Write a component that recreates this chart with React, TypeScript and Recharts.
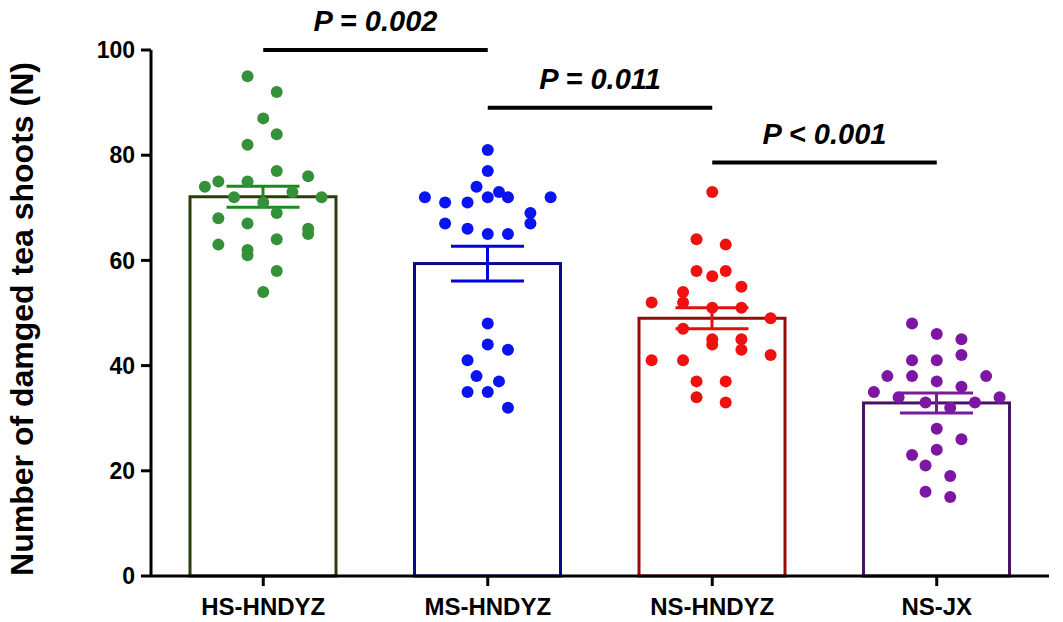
import React from "react";
import {
  Bar,
  ComposedChart,
  ReferenceLine,
  Scatter,
  XAxis,
  YAxis,
} from "recharts";

const groups = ["HS-HNDYZ", "MS-HNDYZ", "NS-HNDYZ", "NS-JX"];
const means = [72.1, 59.4, 49.0, 32.9];
const sems = [2.0, 3.3, 2.0, 1.9];

// individual counts per site, with the horizontal jitter (in category widths) seen in the figure
const hsValues = [95, 92, 87, 84, 82, 77, 76, 75, 75, 74, 73, 72, 72, 71, 69, 68, 67, 66, 65, 64, 63, 62, 61, 58, 54];
const hsJitter = [-0.07, 0.06, 0, 0.06, -0.07, 0.06, 0.2, -0.2, -0.07, -0.26, 0.13, -0.13, 0.26, 0, 0.06, -0.2, -0.07, 0.2, 0.2, 0.06, -0.2, -0.07, -0.07, 0.06, 0];
const msValues = [81, 77, 74, 73, 72, 72, 72, 72, 71, 71, 69, 67, 67, 66, 65, 65, 48, 44, 43, 41, 38, 37, 35, 35, 32];
const msJitter = [0, 0, -0.05, 0.05, -0.28, 0, 0.09, 0.28, -0.19, -0.09, 0.19, 0.19, -0.19, -0.09, 0, 0.09, 0, 0, 0.09, -0.09, -0.05, 0.05, -0.09, 0, 0.09];
const nsValues = [73, 64, 63, 58, 58, 57, 55, 54, 52, 52, 51, 51, 49, 47, 45, 44, 45, 43, 41, 41, 42, 37, 37, 34, 33];
const nsJitter = [0, -0.07, 0.06, -0.07, 0.06, 0, 0.13, -0.13, -0.13, -0.27, 0, 0.13, 0.26, -0.13, 0, 0, 0.13, 0.13, -0.27, -0.13, 0.26, -0.07, 0.06, -0.07, 0.06];
const jxValues = [48, 46, 45, 42, 41, 41, 38, 38, 38, 37, 36, 35, 34, 34, 33, 33, 32, 28, 26, 24, 23, 21, 19, 16, 15];
const jxJitter = [-0.11, 0, 0.11, 0.11, -0.11, 0, -0.22, -0.11, 0.22, 0, 0.11, -0.28, -0.17, 0.28, -0.05, 0.17, 0.06, 0, 0.11, 0, -0.11, -0.05, 0.06, -0.05, 0.06];

const comparisons = [
  { from: 0, to: 1, y: 100, text: "P = 0.002" },
  { from: 1, to: 2, y: 89, text: "P = 0.011" },
  { from: 2, to: 3, y: 78.6, text: "P < 0.001" },
];

const barColors = ["#2b3d0d", "#0b0b8a", "#9a0a0a", "#4b1263"];
const errColors = ["#1a8a1a", "#0000e0", "#e01010", "#7a1a9c"];
const dotColors = ["#34913a", "#0a14f0", "#f01010", "#7e16a4"];

const barData = groups.map((name, i) => ({ name, mean: means[i], sem: sems[i] }));

const dotSets = [
  [hsValues, hsJitter],
  [msValues, msJitter],
  [nsValues, nsJitter],
  [jxValues, jxJitter],
].map(([vals, jit], g) => vals.map((v, k) => ({ x: g + jit[k], y: v })));

const FONT = "'Liberation Sans', Arial, sans-serif";

function OutlinedBar(props: any) {
  const { x, y, width, height, payload, index } = props;
  const perUnit = height / payload.mean;
  const err = payload.sem * perUnit;
  const cx = x + width / 2;
  const cap = width / 4;
  return (
    <g>
      <rect x={x} y={y} width={width} height={height} fill="#fff" stroke={barColors[index]} strokeWidth={3} />
      <g stroke={errColors[index]} strokeWidth={3}>
        <line x1={cx} x2={cx} y1={y - err} y2={y + err} />
        <line x1={cx - cap} x2={cx + cap} y1={y - err} y2={y - err} />
        <line x1={cx - cap} x2={cx + cap} y1={y + err} y2={y + err} />
      </g>
    </g>
  );
}

function YTitle(props: any) {
  const { viewBox } = props;
  const x = viewBox.x + 22;
  const y = viewBox.y + viewBox.height / 2 + 6;
  return (
    <text
      x={x}
      y={y}
      transform={`rotate(-90, ${x}, ${y})`}
      textAnchor="middle"
      dominantBaseline="central"
      fill="#000"
      fontSize={32}
      fontWeight={700}
      fontFamily={FONT}
    >
      Number of damged tea shoots (N)
    </text>
  );
}

export default function App() {
  return (
    <div style={{ position: "absolute", left: 0, top: 0 }}>
      <ComposedChart
        width={1063}
        height={622}
        data={barData}
        margin={{ top: 50, right: 14, bottom: 16, left: 0 }}
      >
        <XAxis
          xAxisId="cat"
          dataKey="name"
          height={30}
          axisLine={{ stroke: "#000", strokeWidth: 3 }}
          tickLine={{ stroke: "#000", strokeWidth: 3 }}
          tickSize={10}
          tickMargin={12}
          tick={{ fill: "#000", fontSize: 24, fontWeight: 700, fontFamily: FONT }}
        />
        <XAxis xAxisId="num" dataKey="x" type="number" domain={[-0.5, 3.5]} hide />
        <YAxis
          width={151}
          domain={[0, 100]}
          ticks={[0, 20, 40, 60, 80, 100]}
          axisLine={{ stroke: "#000", strokeWidth: 3 }}
          tickLine={{ stroke: "#000", strokeWidth: 3 }}
          tickSize={10}
          tickMargin={6}
          tick={{ fill: "#000", fontSize: 23, fontWeight: 700, fontFamily: FONT }}
          label={{ content: YTitle }}
        />
        <Bar
          xAxisId="cat"
          dataKey="mean"
          barSize={146}
          shape={OutlinedBar}
          isAnimationActive={false}
        />
        {dotSets.map((pts, g) => (
          <Scatter
            key={groups[g]}
            xAxisId="num"
            data={pts}
            dataKey="y"
            fill={dotColors[g]}
            shape={(p: any) => <circle cx={p.cx} cy={p.cy} r={6} fill={dotColors[g]} />}
            isAnimationActive={false}
          />
        ))}
        {comparisons.map((c) => (
          <ReferenceLine
            key={c.text}
            xAxisId="num"
            segment={[
              { x: c.from, y: c.y },
              { x: c.to, y: c.y },
            ]}
            stroke="#000"
            strokeWidth={4}
            ifOverflow="visible"
            label={{
              value: c.text,
              position: "top",
              offset: 19,
              style: { fill: "#000", fontSize: 29, fontWeight: 700, fontStyle: "italic", fontFamily: FONT },
            }}
          />
        ))}
      </ComposedChart>
    </div>
  );
}
